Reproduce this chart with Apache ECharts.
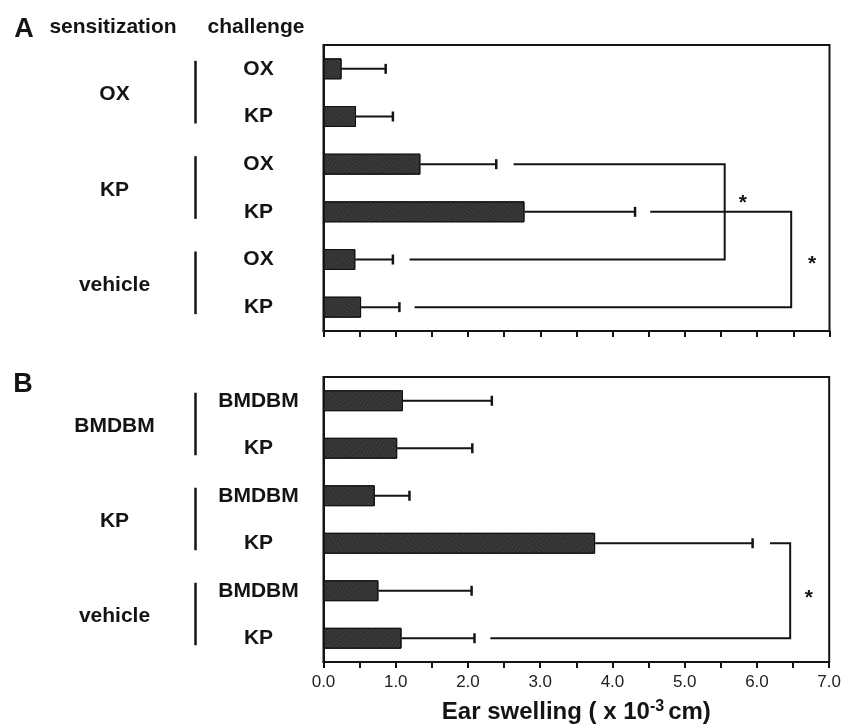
<!DOCTYPE html>
<html>
<head>
<meta charset="utf-8">
<script src="https://cdn.jsdelivr.net/npm/echarts@6/dist/echarts.min.js"></script>
<style>html,body{margin:0;padding:0;background:#fff}#c{width:844px;height:725px}</style>
</head>
<body>
<div id="c"></div>
<script>
// ---- data ----
const challengeA = ['OX', 'KP', 'OX', 'KP', 'OX', 'KP'];
const sensitizationA = ['OX', 'KP', 'vehicle'];
const meanA = [0.25, 0.45, 1.34, 2.78, 0.44, 0.52];
const errTopA = [0.86, 0.96, 2.39, 4.31, 0.96, 1.05];
const bracketsA = [[2, 4, 2.63, 5.55, 1.19], [3, 5, 4.52, 6.47, 1.26]];
const starsA = [[5.80, 2.75], [6.76, 4.03]];

const challengeB = ['BMDBM', 'KP', 'BMDBM', 'KP', 'BMDBM', 'KP'];
const sensitizationB = ['BMDBM', 'KP', 'vehicle'];
const meanB = [1.10, 1.02, 0.71, 3.76, 0.76, 1.08];
const errTopB = [2.33, 2.06, 1.19, 5.94, 2.05, 2.09];
const bracketsB = [[3, 5, 6.18, 6.46, 2.31]];
const starsB = [[6.72, 4.09]];

const xTickLabels = ['0.0', '1.0', '2.0', '3.0', '4.0', '5.0', '6.0', '7.0'];
const groupPairs = [[0, 1], [2, 3], [4, 5]];

const FONT = "'Liberation Sans', Arial, Helvetica, sans-serif";
const INK = '#141414';

const chart = echarts.init(document.getElementById('c'), null, {renderer: 'canvas'});

function xAxisCfg(gi, showLabels) {
  return {
    type: 'value', gridIndex: gi, min: 0, max: 7, interval: 0.5,
    axisLine: {show: true, lineStyle: {color: INK, width: 2}},
    axisTick: {show: true, inside: false, length: 6, lineStyle: {color: INK, width: 2}},
    splitLine: {show: false},
    axisLabel: {
      show: showLabels, margin: 12, fontSize: 17, color: '#222', fontFamily: FONT,
      formatter: v => (Math.abs(v - Math.round(v)) < 1e-9 ? xTickLabels[Math.round(v)] : '')
    },
    name: showLabels ? 'Ear swelling ( x 10{sup|-3}cm)' : '',
    nameLocation: 'middle', nameGap: 37,
    nameTextStyle: {
      fontSize: 24, fontWeight: 'bold', color: INK, fontFamily: FONT,
      rich: {sup: {fontSize: 16, fontWeight: 'bold', color: INK, fontFamily: FONT, verticalAlign: 'top', padding: [0, 4, 10, 0]}}
    }
  };
}
function yAxisCfg(gi, cats) {
  return {
    type: 'category', gridIndex: gi, data: cats, inverse: true,
    axisLine: {show: true, lineStyle: {color: INK, width: 2}},
    axisTick: {show: false},
    axisLabel: {show: true, margin: 65, align: 'center', fontSize: 21, fontWeight: 'bold', color: INK, fontFamily: FONT, padding: [3, 0, 0, 0]}
  };
}
function errSeries(gi, mean, top) {
  return {
    type: 'custom', xAxisIndex: gi, yAxisIndex: gi,
    data: mean.map((m, i) => [i, m, top[i]]),
    encode: {y: 0, x: [1, 2]},
    renderItem: (params, api) => {
      const i = api.value(0);
      const p0 = api.coord([api.value(1), i]);
      const p1 = api.coord([api.value(2), i]);
      return {type: 'group', children: [
        {type: 'line', shape: {x1: p0[0], y1: p0[1], x2: p1[0], y2: p1[1]}, style: {stroke: INK, lineWidth: 2}},
        {type: 'line', shape: {x1: p1[0], y1: p1[1] - 5, x2: p1[0], y2: p1[1] + 5}, style: {stroke: INK, lineWidth: 2.5}}
      ]};
    },
    z: 3
  };
}
function bracketSeries(gi, br) {
  return {
    type: 'custom', xAxisIndex: gi, yAxisIndex: gi,
    data: br, encode: {y: [0, 1], x: [2, 3, 4]},
    renderItem: (params, api) => {
      const a = api.value(0), b = api.value(1);
      const pts = [api.coord([api.value(2), a]), api.coord([api.value(3), a]),
                   api.coord([api.value(3), b]), api.coord([api.value(4), b])];
      return {type: 'polyline', shape: {points: pts}, style: {stroke: INK, lineWidth: 2, fill: null}};
    },
    z: 3
  };
}
function starSeries(gi, st) {
  return {
    type: 'custom', xAxisIndex: gi, yAxisIndex: gi, data: st, encode: {x: 0, y: 1},
    renderItem: (params, api) => {
      const v = api.value(1);
      const k = Math.round(v);
      const p = api.coord([api.value(0), k]);
      const band = api.size([0, 1])[1];
      const y = p[1] + (v - k) * band;
      return {type: 'text', x: p[0], y: y + 3,
        style: {text: '*', font: 'bold 21px ' + FONT, fill: INK, align: 'center', verticalAlign: 'middle'}};
    },
    z: 4
  };
}
function groupSeries(gi, labels) {
  return {
    type: 'custom', xAxisIndex: gi, yAxisIndex: gi,
    data: groupPairs.map(p => [p[0], p[1], 0]), encode: {y: [0, 1], x: 2},
    clip: false,
    renderItem: (params, api) => {
      const a = api.coord([api.value(2), api.value(0)]);
      const b = api.coord([api.value(2), api.value(1)]);
      const lx = a[0] - 128;
      return {type: 'group', children: [
        {type: 'line', shape: {x1: lx, y1: a[1] - 8, x2: lx, y2: b[1] + 7}, style: {stroke: INK, lineWidth: 2.5}},
        {type: 'text', x: a[0] - 209, y: (a[1] + b[1]) / 2 + 2,
         style: {text: labels[params.dataIndex], font: 'bold 21px ' + FONT, fill: INK, align: 'center', verticalAlign: 'middle'}}
      ]};
    }
  };
}
function barSeries(gi, mean) {
  return {
    type: 'bar', xAxisIndex: gi, yAxisIndex: gi, data: mean, barWidth: '44%',
    itemStyle: {color: '#323232', borderColor: '#111', borderWidth: 1,
      decal: {symbol: 'rect', symbolSize: 1, color: 'rgba(255,255,255,0.14)', dashArrayX: [1, 2], dashArrayY: [1, 2], rotation: 0.6}},
    z: 2
  };
}

const option = {
  animation: false,
  backgroundColor: '#fff',
  aria: {enabled: false, decal: {show: true}},
  grid: [
    {left: 323.5, top: 45, width: 506, height: 286, show: true, borderColor: INK, borderWidth: 2, backgroundColor: 'transparent'},
    {left: 323.5, top: 377, width: 506, height: 286, show: true, borderColor: INK, borderWidth: 2, backgroundColor: 'transparent'}
  ],
  xAxis: [xAxisCfg(0, false), xAxisCfg(1, true)],
  yAxis: [yAxisCfg(0, challengeA), yAxisCfg(1, challengeB)],
  series: [
    barSeries(0, meanA), errSeries(0, meanA, errTopA), bracketSeries(0, bracketsA), starSeries(0, starsA), groupSeries(0, sensitizationA),
    barSeries(1, meanB), errSeries(1, meanB, errTopB), bracketSeries(1, bracketsB), starSeries(1, starsB), groupSeries(1, sensitizationB)
  ],
  graphic: [
    {type: 'text', x: 24, y: 30, style: {text: 'A', font: 'bold 27px ' + FONT, fill: INK, align: 'center', verticalAlign: 'middle'}},
    {type: 'text', x: 113, y: 27, style: {text: 'sensitization', font: 'bold 21px ' + FONT, fill: INK, align: 'center', verticalAlign: 'middle'}},
    {type: 'text', x: 256, y: 27, style: {text: 'challenge', font: 'bold 21px ' + FONT, fill: INK, align: 'center', verticalAlign: 'middle'}},
    {type: 'text', x: 23, y: 385, style: {text: 'B', font: 'bold 27px ' + FONT, fill: INK, align: 'center', verticalAlign: 'middle'}}
  ]
};
chart.setOption(option);
</script>
</body>
</html>
